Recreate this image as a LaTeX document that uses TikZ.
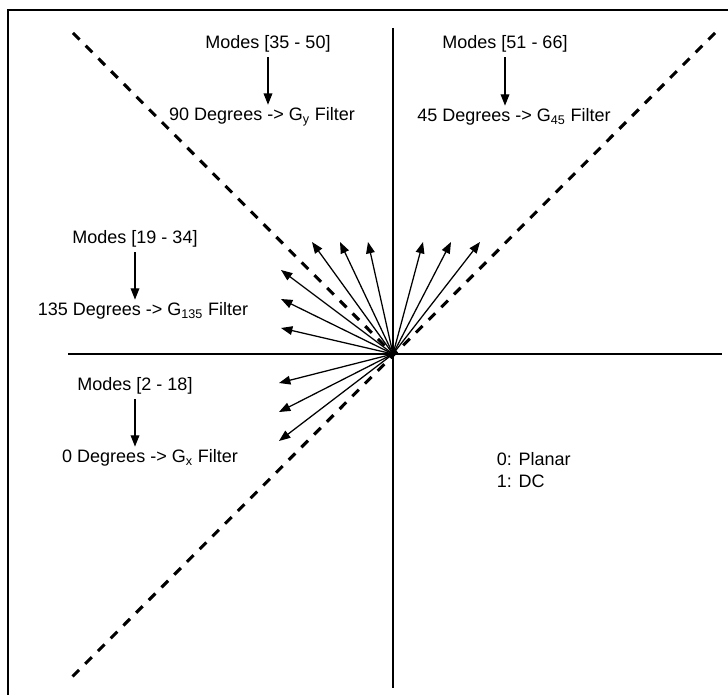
\documentclass[tikz,border=0pt]{standalone}
\usepackage{fontspec}
\setmainfont{Liberation Sans}
\usetikzlibrary{arrows.meta}
\begin{document}
\begin{tikzpicture}[x=0.75pt,y=-0.75pt,
  lbl/.style={font=\fontsize{13.5}{15}\selectfont, inner sep=2pt},
  frameline/.style={line width=2.1pt},
  axisline/.style={line width=2.1pt},
  diagline/.style={line width=2.3pt, dash pattern=on 7pt off 6.5pt},
  ray/.style={line width=0.95pt, -{Triangle[length=8.5pt,width=6.5pt]}},
  down/.style={line width=0.95pt, -{Triangle[length=8.5pt,width=6.5pt]}}]
\useasboundingbox (0,0) rectangle (728,695);
% frame
\coordinate (fbl) at (8,695);
\coordinate (ftl) at (8,10);
\coordinate (ftr) at (728,10);
\draw[frameline] (fbl) -- (ftl) -- (ftr);
% axes
\coordinate (o) at (393,354);
\coordinate (ax1) at (68,354);
\coordinate (ax2) at (722,354);
\coordinate (ay1) at (393,28);
\coordinate (ay2) at (393,688);
\draw[axisline] (ax1) -- (ax2);
\draw[axisline] (ay1) -- (ay2);
% diagonals
\coordinate (d1) at (73,33);
\coordinate (d2a) at (715,33);
\coordinate (d2b) at (68,681);
\draw[diagline] (d1) -- (o);
\draw[diagline] (d2a) -- (d2b);
% rays
\coordinate (t1) at (312,242);
\coordinate (t2) at (340,242);
\coordinate (t3) at (368,242);
\coordinate (t4) at (423,242);
\coordinate (t5) at (451,242);
\coordinate (t6) at (480,242);
\coordinate (t7) at (281,270);
\coordinate (t8) at (281,299);
\coordinate (t9) at (281,328);
\coordinate (t10) at (279,383);
\coordinate (t11) at (279,412);
\coordinate (t12) at (279,441);
\foreach \t in {t1,t2,t3,t4,t5,t6,t7,t8,t9,t10,t11,t12}
  \draw[ray] (o) -- (\t);
% labels
\node[lbl] (m1) at (268,44) {Modes [35 - 50]};
\node[lbl] (f1) at (262,117) {90 Degrees -> G\textsubscript{y} Filter};
\node[lbl] (m2) at (505,44) {Modes [51 - 66]};
\node[lbl] (f2) at (514,117) {45 Degrees -> G\textsubscript{45} Filter};
\node[lbl] (m3) at (135,239) {Modes [19 - 34]};
\node[lbl] (f3) at (143,311) {135 Degrees -> G\textsubscript{135} Filter};
\node[lbl] (m4) at (135,386) {Modes [2 - 18]};
\node[lbl] (f4) at (150,458) {0 Degrees -> G\textsubscript{x} Filter};
\node[lbl, anchor=north west, align=left, font=\fontsize{13.5}{16}\selectfont] (pl) at (494,450) {0: Planar\\1: DC};
\draw[down] ([yshift=-1.5pt]m1.south) -- (m1.south |- f1.north);
\draw[down] ([yshift=-1.5pt]m2.south) -- (m2.south |- f2.north);
\draw[down] ([yshift=-1.5pt]m3.south) -- (m3.south |- f3.north);
\draw[down] ([yshift=-1.5pt]m4.south) -- (m4.south |- f4.north);
\end{tikzpicture}
\end{document}
